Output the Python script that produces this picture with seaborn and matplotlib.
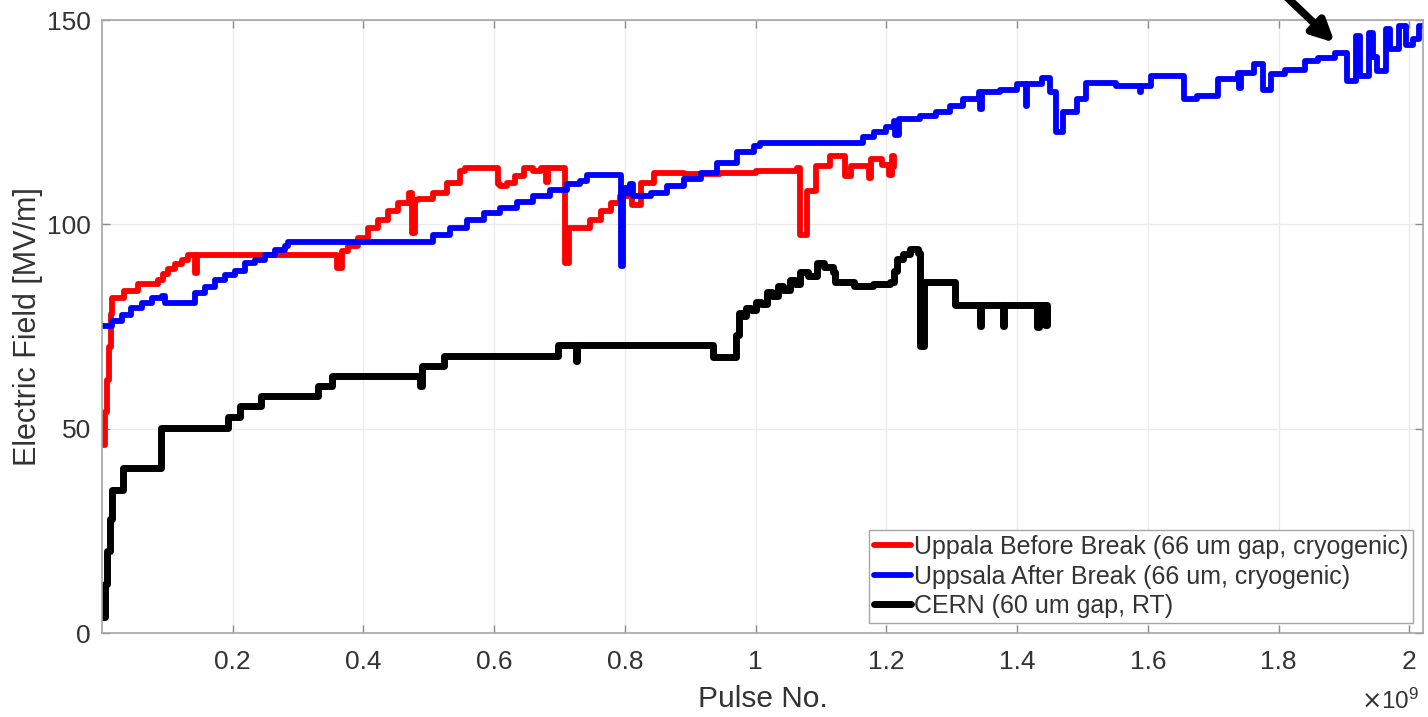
import matplotlib
matplotlib.use('Agg')
import matplotlib.pyplot as plt
import pandas as pd
import seaborn as sns

# Pulse number in units of 1e9, field in MV/m
red_x = [0.002, 0.005, 0.008, 0.011, 0.014, 0.015, 0.027, 0.033, 0.053, 0.055, 0.078, 0.086, 0.094,
         0.101, 0.111, 0.122, 0.132, 0.142, 0.143, 0.145, 0.357, 0.359, 0.367, 0.377, 0.392, 0.407,
         0.423, 0.438, 0.453, 0.469, 0.472, 0.474, 0.479, 0.484, 0.507, 0.528, 0.548, 0.555, 0.604,
         0.606, 0.609, 0.619, 0.632, 0.645, 0.660, 0.672, 0.680, 0.683, 0.706, 0.709, 0.714, 0.732,
         0.747, 0.763, 0.778, 0.793, 0.808, 0.811, 0.824, 0.844, 0.890, 0.946, 1.000, 1.063, 1.068,
         1.078, 1.093, 1.114, 1.131, 1.136, 1.146, 1.161, 1.174, 1.176, 1.194, 1.204, 1.209, 1.212]
red_y = [46, 54, 62, 70, 78, 82, 82, 83.7, 83.7, 85.3, 85.3, 86.5, 87.8,
         89, 90.2, 91.4, 92.6, 92.6, 88, 92.6, 92.6, 89.3, 93.4, 94.6, 96.7, 99.1,
         101.1, 103.2, 105.2, 107.6, 107.6, 98.0, 106, 106.1, 107.7, 110.2, 113, 113.8, 113.8,
         110, 109.4, 110.2, 111.8, 113.8, 113, 113.8, 110.5, 113.8, 113.8, 90.6, 99.2, 99.2,
         101.2, 103.2, 105.2, 106.9, 108.1, 104.8, 110.2, 112.6, 112.4, 112.7, 113, 113.9, 97.5,
         108.1, 114.2, 116.7, 116.7, 111.8, 114.2, 114.2, 111.4, 115.9, 114.6, 112.2, 116.7, 114]

blue_x = [0.0, 0.015, 0.030, 0.045, 0.061, 0.076, 0.092, 0.096, 0.137, 0.142, 0.158, 0.173, 0.188,
          0.204, 0.219, 0.234, 0.250, 0.265, 0.280, 0.285, 0.489, 0.507, 0.533, 0.558, 0.584, 0.609,
          0.635, 0.660, 0.686, 0.711, 0.732, 0.742, 0.792, 0.794, 0.797, 0.803, 0.808, 0.812, 0.840,
          0.865, 0.891, 0.916, 0.941, 0.971, 0.997, 1.007, 1.155, 1.165, 1.181, 1.200, 1.211, 1.213,
          1.220, 1.251, 1.276, 1.298, 1.318, 1.342, 1.344, 1.346, 1.374, 1.400, 1.412, 1.413, 1.415,
          1.438, 1.450, 1.460, 1.470, 1.491, 1.506, 1.552, 1.586, 1.588, 1.590, 1.605, 1.651, 1.656,
          1.676, 1.707, 1.738, 1.740, 1.742, 1.763, 1.776, 1.789, 1.810, 1.840, 1.861, 1.887, 1.897,
          1.905, 1.918, 1.925, 1.938, 1.945, 1.951, 1.964, 1.970, 1.985, 1.995, 2.005, 2.015, 2.025]
blue_y = [75.1, 76.3, 77.9, 79.5, 80.8, 82, 82.4, 80.8, 80.8, 83.2, 84.8, 86.5, 87.7,
          88.5, 90.5, 91.3, 92.6, 93.8, 94.6, 95.6, 95.6, 97.5, 99.1, 101.2, 102.8, 104,
          105.6, 106.9, 108.5, 109.8, 110.6, 112.2, 112.2, 89.8, 109, 107.7, 110, 106.9, 107.7,
          109.4, 111, 112.6, 115.1, 117.6, 119.2, 120, 120, 121.3, 122.5, 123.8, 125.4, 121.8,
          125.8, 126.6, 127.5, 129, 130.6, 132.3, 128.2, 132.3, 133, 134.3, 134.3, 129, 134.3,
          135.9, 132.3, 122.5, 127.5, 130.7, 134.7, 133.9, 133.9, 132.3, 133.9, 136.3, 136.3, 130.7,
          131.5, 135.5, 137.1, 133.4, 137.1, 139.2, 133, 136.7, 137.9, 139.9, 140.8, 142, 142,
          135.1, 146.1, 136.3, 146.9, 141, 137.5, 147.7, 143, 148.5, 144, 145.3, 148.5, 146.5]

black_x = [0.000, 0.004, 0.008, 0.012, 0.016, 0.030, 0.032, 0.085, 0.090, 0.188, 0.193, 0.208, 0.211,
           0.242, 0.244, 0.328, 0.331, 0.349, 0.352, 0.486, 0.487, 0.489, 0.520, 0.523, 0.695, 0.697,
           0.724, 0.725, 0.727, 0.934, 0.935, 0.966, 0.970, 0.974, 0.980, 0.986, 0.993, 1.000, 1.008,
           1.017, 1.025, 1.035, 1.042, 1.052, 1.060, 1.068, 1.080, 1.094, 1.105, 1.119, 1.121, 1.150,
           1.180, 1.206, 1.211, 1.216, 1.226, 1.236, 1.248, 1.251, 1.257, 1.302, 1.305, 1.342, 1.343,
           1.345, 1.377, 1.378, 1.380, 1.430, 1.431, 1.433, 1.441, 1.443, 1.446]
black_y = [4, 12, 20, 28, 35, 35, 40.3, 40.3, 50.2, 50.2, 53, 53, 55.5,
           55.5, 57.9, 57.9, 60.4, 60.4, 62.8, 62.8, 60.5, 65.3, 65.3, 67.9, 67.9, 70.4,
           70.4, 66.5, 70.4, 70.4, 67.5, 67.5, 73, 78.4, 77.5, 79.6, 79, 81, 80.5,
           83.5, 82.5, 85, 84, 86.5, 85.5, 88.3, 87.5, 90.6, 89.5, 88.3, 85.8, 85,
           85.3, 85.8, 88.5, 91.5, 92.8, 93.9, 93.1, 70.2, 85.8, 85.8, 80.4, 80.4, 75.1,
           80.4, 80.4, 75.1, 80.4, 80.4, 75, 80.4, 80.4, 75.5, 80.4]

labels = ['Uppala Before Break (66 um gap, cryogenic)',
          'Uppsala After Break (66 um, cryogenic)',
          'CERN (60 um gap, RT)']
colors = ['#ff0000', '#0000ff', '#000000']

x_ticks = [0.2, 0.4, 0.6, 0.8, 1.0, 1.2, 1.4, 1.6, 1.8, 2.0]
x_tick_labels = ['0.2', '0.4', '0.6', '0.8', '1', '1.2', '1.4', '1.6', '1.8', '2']
y_ticks = [0, 50, 100, 150]

sns.set_theme(style='whitegrid')
plt.rcParams['font.family'] = ['Liberation Sans', 'DejaVu Sans']
text_color = '#333333'

fig, ax = plt.subplots(figsize=(14.28, 7.17), dpi=100)
fig.subplots_adjust(left=0.0714, right=0.9965, bottom=0.117, top=0.972)

series = [(red_x, red_y, 4.2), (blue_x, blue_y, 4.2), (black_x, black_y, 5.0)]
for (xs, ys, lw), lab, col in zip(series, labels, colors):
    df = pd.DataFrame({'pulse': [v * 1e9 for v in xs], 'field': ys})
    sns.lineplot(data=df, x='pulse', y='field', ax=ax, color=col, linewidth=lw,
                 sort=False, estimator=None, label=lab, drawstyle='steps-post')

ax.set_xlim(0, 2.021e9)
ax.set_ylim(0, 150)
ax.set_xticks([v * 1e9 for v in x_ticks])
ax.set_xticklabels(x_tick_labels)
ax.set_yticks(y_ticks)
ax.grid(True, color='#ebebeb', linewidth=1)
for s in ax.spines.values():
    s.set_visible(True)
    s.set_color('#a6a6a6')
    s.set_linewidth(1.2)
ax.tick_params(direction='in', length=6, width=1, color='#8c8c8c', labelsize=19,
               labelcolor=text_color, top=True, right=True, bottom=True, left=True)
ax.tick_params(axis='x', pad=12)
ax.tick_params(axis='y', pad=8)

ax.set_xlabel('Pulse No.', fontsize=21.5, color=text_color, labelpad=8)
ax.set_ylabel('Electric Field [MV/m]', fontsize=22, color=text_color, labelpad=3)
ax.text(0.997, -0.09, r'$\times\mathregular{10^{9}}$', transform=ax.transAxes,
        ha='right', va='top', fontsize=17.5, color=text_color)

leg = ax.legend(loc='lower right', fontsize=18, frameon=True, fancybox=False, framealpha=1,
                edgecolor='#a6a6a6', handlelength=1.5, handletextpad=0.1, borderpad=0.2,
                labelspacing=0.22, borderaxespad=0.4)
leg.get_frame().set_linewidth(1)
for t in leg.get_texts():
    t.set_color(text_color)

# arrow pointing at the break
ax.annotate('', xy=(1.889e9, 144), xytext=(1.81e9, 156),
            arrowprops=dict(arrowstyle='-|>', color='black', lw=5.5, mutation_scale=32),
            annotation_clip=False)

fig.savefig('out.png', dpi=100)
